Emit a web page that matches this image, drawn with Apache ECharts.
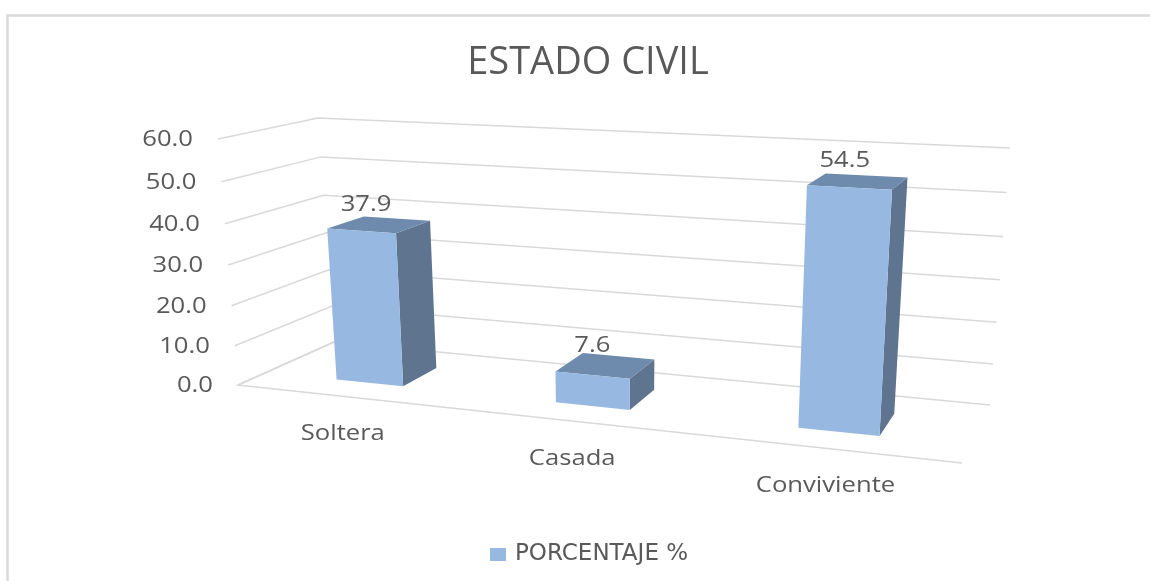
<!DOCTYPE html>
<html>
<head>
<meta charset="utf-8">
<title>ESTADO CIVIL</title>
<script src="https://cdn.jsdelivr.net/npm/echarts@6/dist/echarts.min.js"></script>
<style>
  html, body { margin: 0; padding: 0; background: #fff; }
  #main { width: 1150px; height: 581px; }
</style>
</head>
<body>
<div id="main"></div>
<script>
const categories = ['Soltera', 'Casada', 'Conviviente']
const porcentaje = [37.9, 7.6, 54.5]
const valueTicks = [0, 10, 20, 30, 40, 50, 60]
const seriesName = 'PORCENTAJE %'

const textColor = '#595959'
const lineColor = '#d9d9d9'
const frontColor = '#97b8e1'
const topColor = '#6e8bad'
const sideColor = '#5e748f'
const smallFont = '21px "Open Sans"'

// the eight corners of the 3D box, in pixels
const box = {
  fbl: [238, 385], ftl: [218, 139], fbr: [962, 463], ftr: [980, 177],
  bbl: [334, 342], btl: [318, 118], bbr: [990, 405], btr: [1010, 148]
}
const barWidth = 0.315 // share of a category band
const barFront = 0.3
const barBack = 0.7

const mix = (a, b, k) => [a[0] + (b[0] - a[0]) * k, a[1] + (b[1] - a[1]) * k]

// s: 0..1 along the categories, z: 0 front..1 back, t: 0..1 up the value axis
const project = (s, z, t) => {
  const u = s + 0.148 * s * (s - 1)
  const h = t + 0.05 * t * (t - 1)
  const bottom = mix(mix(box.fbl, box.fbr, u), mix(box.bbl, box.bbr, u), z)
  const top = mix(mix(box.ftl, box.ftr, u), mix(box.btl, box.btr, u), z)
  return mix(bottom, top, h)
}

const toS = (params, api, idx) => (api.coord([idx, 0])[0] - params.coordSys.x) / params.coordSys.width
const toT = (params, api, val) => (params.coordSys.y + params.coordSys.height - api.coord([0, val])[1]) / params.coordSys.height

const stretchedText = (text, p, align) => ({
  type: 'text',
  x: p[0],
  y: p[1],
  scaleX: 1.22,
  style: { text: text, fill: textColor, font: smallFont, align: align, verticalAlign: 'middle' }
})

const renderWall = (params, api) => {
  const val = api.value(1)
  const t = toT(params, api, val)
  const children = [{
    type: 'polyline',
    shape: { points: [project(0, 0, t), project(0, 1, t), project(1, 1, t)] },
    style: { stroke: lineColor, lineWidth: 1.5, fill: 'none' }
  }]
  if (val === 0) {
    children.push({
      type: 'polyline',
      shape: { points: [project(0, 1, 0), project(0, 0, 0), project(1, 0, 0)] },
      style: { stroke: lineColor, lineWidth: 1.5, fill: 'none' }
    })
  }
  const end = project(0, 0, t)
  children.push(stretchedText(val.toFixed(1), [end[0] - 25, end[1] + 1], 'right'))
  return { type: 'group', children: children }
}

const renderBar = (params, api) => {
  const idx = api.value(0)
  const val = api.value(1)
  const half = barWidth * (api.size([1, 0])[0] / params.coordSys.width) / 2
  const s = toS(params, api, idx)
  const t = toT(params, api, val)
  const l = s - half
  const r = s + half
  const center = project(s, (barFront + barBack) / 2, t)
  const foot = project(s, 0, 0)
  return {
    type: 'group',
    children: [
      {
        type: 'polygon',
        shape: { points: [project(r, barFront, t), project(r, barBack, t), project(r, barBack, 0), project(r, barFront, 0)] },
        style: { fill: sideColor }
      },
      {
        type: 'polygon',
        shape: { points: [project(l, barFront, t), project(l, barBack, t), project(r, barBack, t), project(r, barFront, t)] },
        style: { fill: topColor }
      },
      {
        type: 'polygon',
        shape: { points: [project(l, barFront, t), project(r, barFront, t), project(r, barFront, 0), project(l, barFront, 0)] },
        style: { fill: frontColor }
      },
      stretchedText(val.toFixed(1), [center[0] - 13, center[1] - 20], 'center'),
      stretchedText(categories[idx], [foot[0] - 1, foot[1] + 38], 'center')
    ]
  }
}

const myChart = echarts.init(document.getElementById('main'), null, { renderer: 'canvas' })

myChart.setOption({
  animation: false,
  backgroundColor: '#ffffff',
  title: {
    text: 'ESTADO CIVIL',
    left: 583,
    top: 39,
    textAlign: 'center',
    textStyle: { color: textColor, fontFamily: 'Open Sans', fontSize: 38, fontWeight: 'normal' }
  },
  legend: {
    data: [seriesName],
    left: 485,
    top: 538,
    icon: 'rect',
    itemWidth: 16,
    itemHeight: 13,
    itemGap: 8,
    textStyle: { color: textColor, fontFamily: 'DejaVu Sans', fontSize: 23, padding: [0, 0, 0, 4] }
  },
  grid: { left: 238, top: 139, width: 724, height: 246 },
  xAxis: { type: 'category', data: categories, show: false },
  yAxis: { type: 'value', min: 0, max: 60, interval: 10, show: false },
  graphic: [{
    type: 'polyline',
    shape: { points: [[7.5, 581], [7.5, 15.5], [1150, 15.5]] },
    style: { stroke: lineColor, lineWidth: 2.5, fill: 'none' }
  }],
  series: [
    {
      name: 'grid',
      type: 'custom',
      z: 1,
      silent: true,
      renderItem: renderWall,
      data: valueTicks.map(v => [0, v])
    },
    {
      name: seriesName,
      type: 'custom',
      z: 2,
      itemStyle: { color: frontColor },
      renderItem: renderBar,
      data: porcentaje.map((v, i) => [i, v])
    }
  ]
})
</script>
</body>
</html>
